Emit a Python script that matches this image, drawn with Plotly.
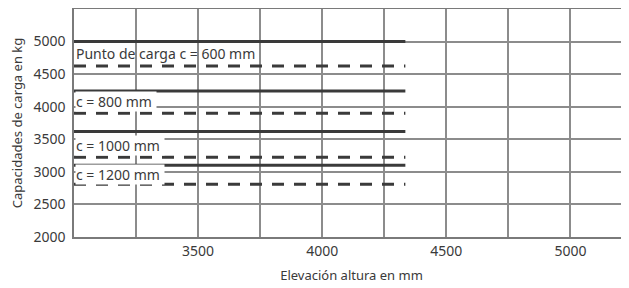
import plotly.graph_objects as go

# Data
x_start = 3000
x_end = 4335
solid_caps = [5000, 4240, 3620, 3100]
dashed_caps = [4625, 3900, 3225, 2810]
label_texts = ["Punto de carga c = 600 mm", "c = 800 mm", "c = 1000 mm", "c = 1200 mm"]
label_y = [4810, 4075, 3410, 2955]
x_ticks = [3500, 4000, 4500, 5000]
y_ticks = [2000, 2500, 3000, 3500, 4000, 4500, 5000]

FONT = "Noto Sans"
TEXT_COLOR = "#3a3a3a"
LINE_COLOR = "#3a3a3a"
GRID_COLOR = "#8c8c8c"

fig = go.Figure()
for v in solid_caps:
    fig.add_trace(go.Scatter(x=[x_start, x_end], y=[v, v], mode="lines",
                             line=dict(color=LINE_COLOR, width=3), showlegend=False,
                             hoverinfo="skip"))
for v in dashed_caps:
    fig.add_trace(go.Scatter(x=[x_start, x_end], y=[v, v], mode="lines",
                             line=dict(color=LINE_COLOR, width=3, dash="12px,10px"),
                             showlegend=False, hoverinfo="skip"))

for i, (t, y) in enumerate(zip(label_texts, label_y)):
    fig.add_annotation(x=x_start, y=y, xref="x", yref="y", text=t + " ",
                       showarrow=False, xanchor="left", yanchor="middle", xshift=1,
                       font=dict(family=FONT, size=14, color=TEXT_COLOR),
                       bgcolor=None if i == 0 else "white", borderpad=0)

fig.update_layout(
    width=621, height=280,
    margin=dict(l=66, r=0, t=1, b=51),
    paper_bgcolor="white", plot_bgcolor="white",
    font=dict(family=FONT, size=14, color=TEXT_COLOR),
    xaxis=dict(range=[3000, 5236], tickvals=x_ticks, showgrid=True, automargin=False,
               gridcolor=GRID_COLOR, gridwidth=1.5,
               minor=dict(tick0=3000, dtick=250, showgrid=True, gridcolor=GRID_COLOR, gridwidth=1.5),
               showline=True, mirror=True, linecolor="#7a7a7a", linewidth=1.5, zeroline=False,
               ticks="", tickfont=dict(size=14),
               title=dict(text="Elevación altura en mm", standoff=12,
                          font=dict(family=FONT, size=13, color=TEXT_COLOR))),
    yaxis=dict(range=[2000, 5500], tickvals=y_ticks, showgrid=True, automargin=False,
               gridcolor=GRID_COLOR, gridwidth=1.5,
               minor=dict(tick0=2000, dtick=500, showgrid=True, gridcolor=GRID_COLOR, gridwidth=1.5),
               showline=True, linecolor="#7a7a7a", linewidth=1.5, zeroline=False,
               ticks="", ticklabelstandoff=4, tickfont=dict(size=14),
               title=dict(text="Capacidades de carga en kg", standoff=8,
                          font=dict(family=FONT, size=13, color=TEXT_COLOR))),
)

fig.write_html("out.html")
